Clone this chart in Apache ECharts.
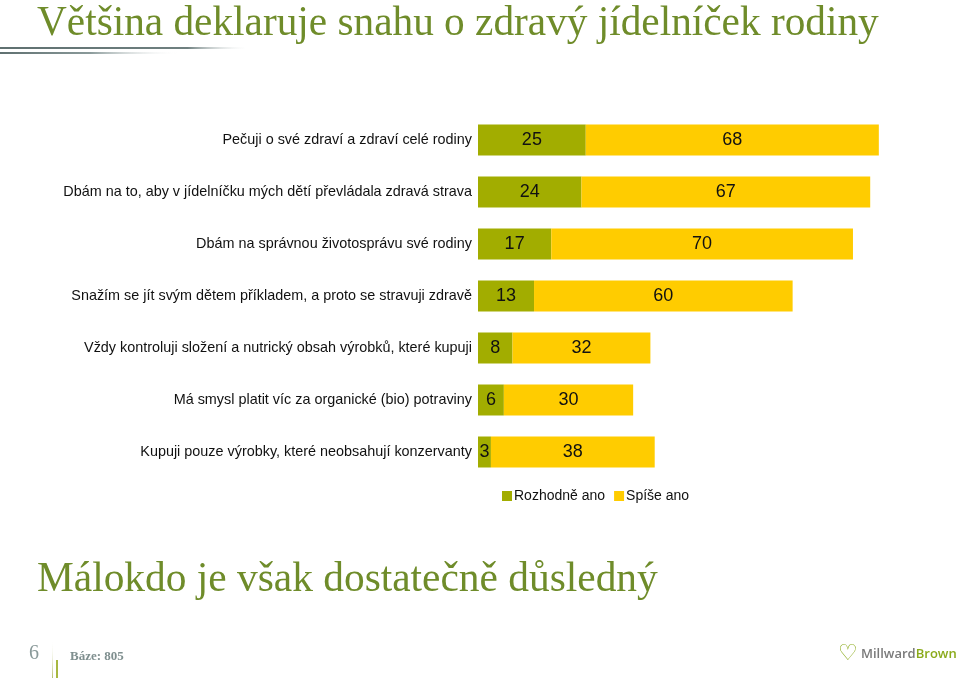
<!DOCTYPE html>
<html><head><meta charset="utf-8">
<script src="https://cdn.jsdelivr.net/npm/echarts@6/dist/echarts.min.js"></script>
<style>html,body{margin:0;padding:0;background:#fff}#c{width:960px;height:678px}</style>
</head><body><div id="c"></div>
<script>
const categories = [
  "Pečuji o své zdraví a zdraví celé rodiny",
  "Dbám na to, aby v jídelníčku mých dětí převládala zdravá strava",
  "Dbám na správnou životosprávu své rodiny",
  "Snažím se jít svým dětem příkladem, a proto se stravuji zdravě",
  "Vždy kontroluji složení a nutrický obsah výrobků, které kupuji",
  "Má smysl platit víc za organické (bio) potraviny",
  "Kupuji pouze výrobky, které neobsahují konzervanty"
];
const rozhodneAno = [25, 24, 17, 13, 8, 6, 3];
const spiseAno = [68, 67, 70, 60, 32, 30, 38];
const seriesNames = ["Rozhodně ano", "Spíše ano"];

const chart = echarts.init(document.getElementById('c'));
const labelFont = "'Liberation Sans Narrow','Arial Narrow','Liberation Sans',Arial,sans-serif";
const serif = "'Liberation Serif','DejaVu Serif',serif";
const valLabel = {show: true, position: 'inside', color: '#111', fontSize: 18, fontFamily: labelFont};
chart.setOption({
  animation: false,
  grid: {left: 478, top: 114, width: 431, height: 364, containLabel: false},
  xAxis: {type: 'value', min: 0, max: 100, show: false},
  yAxis: {type: 'category', data: categories, inverse: true,
    axisLine: {show: false}, axisTick: {show: false},
    axisLabel: {color: '#111', fontSize: 14.4, fontFamily: labelFont, margin: 6}},
  legend: {data: seriesNames, left: 497, top: 484, itemWidth: 10, itemHeight: 10, itemGap: 9,
    icon: 'rect', textStyle: {color: '#111', fontSize: 14, fontFamily: labelFont, padding: [0,0,0,-3]}},
  series: [
    {name: seriesNames[0], type: 'bar', stack: 't', data: rozhodneAno, barWidth: 31,
     itemStyle: {color: '#a2ad00'}, label: valLabel},
    {name: seriesNames[1], type: 'bar', stack: 't', data: spiseAno, barWidth: 31,
     itemStyle: {color: '#ffcc00'}, label: valLabel}
  ],
  graphic: [
    {type: 'text', left: 37, top: 4, style: {text: 'Většina deklaruje snahu o zdravý jídelníček rodiny', fill: '#6f8c2a', font: "41.3px " + serif}},
    {type: 'rect', shape: {x: 0, y: 47, width: 250, height: 2}, style: {fill: new echarts.graphic.LinearGradient(0,0,1,0,[{offset:0,color:'#5f7070'},{offset:0.75,color:'#6f8080'},{offset:1,color:'rgba(255,255,255,0)'}])}},
    {type: 'rect', shape: {x: 0, y: 52, width: 180, height: 2}, style: {fill: new echarts.graphic.LinearGradient(0,0,1,0,[{offset:0,color:'#5f7070'},{offset:0.5,color:'#8a9a9a'},{offset:1,color:'rgba(255,255,255,0)'}])}},
    {type: 'text', left: 37, top: 560, style: {text: 'Málokdo je však dostatečně důsledný', fill: '#6f8c2a', font: "41.4px " + serif}},
    {type: 'text', left: 29, top: 644, style: {text: '6', fill: '#8a9a9a', font: "20px " + serif}},
    {type: 'rect', shape: {x: 52, y: 640, width: 1, height: 38}, style: {fill: new echarts.graphic.LinearGradient(0,0,0,1,[{offset:0,color:'rgba(255,255,255,0)'},{offset:1,color:'#b8c070'}])}},
    {type: 'rect', shape: {x: 56, y: 660, width: 2, height: 18}, style: {fill: '#a8b840'}},
    {type: 'text', left: 70, top: 650, style: {text: 'Báze: 805', fill: '#7f8f8f', font: "bold 13px " + serif}},
    {type: 'text', left: 861, top: 648, style: {rich: {a: {fill: '#7a7a7a', font: "600 13px 'Open Sans',sans-serif"}, b: {fill: '#8aaa1a', font: "600 13px 'Open Sans',sans-serif"}}, text: '{a|Millward}{b|Brown}'}},
    {type: 'text', left: 838, top: 643, style: {text: '♡', fill: '#8aaa1a', font: "bold 22px 'DejaVu Sans',sans-serif"}}
  ]
});
</script></body></html>
